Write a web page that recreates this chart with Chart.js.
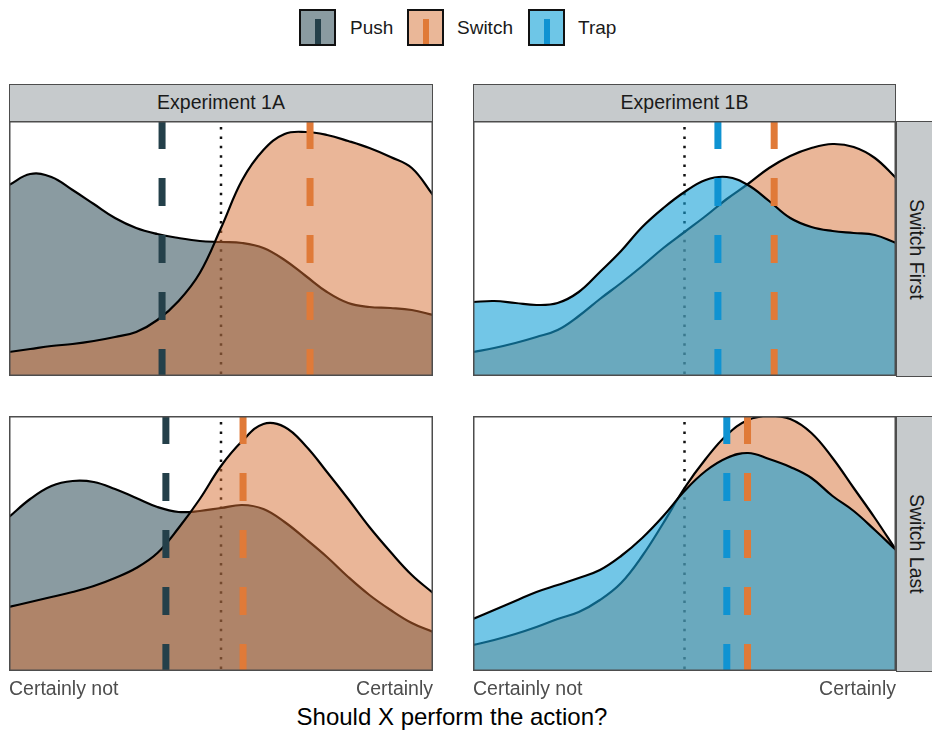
<!DOCTYPE html>
<html>
<head>
<meta charset="utf-8">
<script src="https://cdn.jsdelivr.net/npm/chart.js@4.4.1/dist/chart.umd.min.js"></script>
<style>
    body {
        margin: 0;
        width: 932px;
        height: 731px;
        position: relative;
        overflow: hidden;
        background: #fff;
        font-family: "Liberation Sans", Arial, sans-serif;
    }
    canvas { position: absolute; }
    .strip {
        position: absolute;
        box-sizing: border-box;
        background: #c6cacc;
        border: 1.5px solid #4d4d4d;
        color: #1a1a1a;
        font-size: 19.5px;
        line-height: 1;
        display: flex;
        align-items: center;
        justify-content: center;
    }
    .strip.side { writing-mode: vertical-rl; }
    .key {
        position: absolute;
        top: 9px;
        width: 37px;
        height: 37px;
        box-sizing: border-box;
        border: 2px solid #111;
    }
    .key span {
        position: absolute;
        left: 13.5px;
        top: 8px;
        width: 6px;
        bottom: 0;
    }
    .keyLabel {
        position: absolute;
        top: 17px;
        font-size: 19px;
        line-height: 22px;
        color: #1a1a1a;
    }
    #title {
        position: absolute;
        left: 0;
        width: 904px;
        top: 705px;
        text-align: center;
        font-size: 24px;
        line-height: 24px;
        color: #000;
    }
</style>
</head>
<body>

<div class="key" style="left:299px;background:#8a9ba1"><span style="background:#24404a"></span></div>
<div class="keyLabel" style="left:350px">Push</div>
<div class="key" style="left:407px;background:#eab798"><span style="background:#e07a38"></span></div>
<div class="keyLabel" style="left:457px">Switch</div>
<div class="key" style="left:528px;background:#6ec6e7"><span style="background:#0f93d2"></span></div>
<div class="keyLabel" style="left:578px">Trap</div>

<div class="strip" style="left:9px;top:84px;width:424px;height:38px">Experiment 1A</div>
<div class="strip" style="left:473px;top:84px;width:423px;height:38px">Experiment 1B</div>
<div class="strip side" style="left:896px;top:121px;width:40px;height:256px">Switch First</div>
<div class="strip side" style="left:896px;top:416px;width:40px;height:256px">Switch Last</div>

<canvas id="c1A_first" width="424" height="255" style="left:9px;top:121px"></canvas>
<canvas id="c1B_first" width="423" height="255" style="left:473px;top:121px"></canvas>
<canvas id="c1A_last" width="424" height="285" style="left:9px;top:416px"></canvas>
<canvas id="c1B_last" width="423" height="285" style="left:473px;top:416px"></canvas>

<div id="title">Should X perform the action?</div>

<script>
// response scale, 0 = certainly not, 100 = certainly
const xGrid = [0, 5, 10, 15, 20, 25, 30, 35, 40, 45, 50, 55, 60, 65, 70, 75, 80, 85, 90, 95, 100];
const tickValues = [0, 100];
const tickLabels = ['Certainly not', 'Certainly'];
const midpoint = 50;
const yMax = 25.5;

// density estimates (arbitrary units) read at xGrid
const push1A_first   = [19.1, 20.2, 19.9, 18.6, 17.2, 15.8, 14.8, 14.2, 13.8, 13.5, 13.4, 13.3, 12.8, 11.6, 10.0, 8.4, 7.3, 6.9, 6.8, 6.6, 6.1];
const switch1A_first = [2.4, 2.7, 3.0, 3.2, 3.5, 3.9, 4.4, 5.6, 7.5, 10.3, 14.8, 19.6, 22.6, 24.2, 24.4, 24.1, 23.5, 22.8, 21.9, 20.8, 18.1];
const switch1B_first = [2.4, 2.8, 3.3, 3.9, 4.6, 6.0, 7.7, 9.3, 11.0, 12.8, 14.4, 16.0, 17.7, 19.2, 20.8, 22.0, 22.8, 23.2, 22.9, 21.8, 19.8];
const trap1B_first   = [7.4, 7.5, 7.3, 7.1, 7.3, 8.4, 10.4, 12.5, 14.9, 16.8, 18.4, 19.6, 19.9, 19.1, 17.5, 15.8, 14.9, 14.5, 14.3, 14.1, 13.3];
const push1A_last    = [15.4, 17.2, 18.5, 19.0, 18.9, 18.2, 17.3, 16.4, 15.9, 16.0, 16.3, 16.6, 16.2, 14.9, 13.2, 11.4, 9.4, 7.6, 6.1, 4.8, 3.9];
const switch1A_last  = [6.4, 6.9, 7.4, 7.9, 8.5, 9.3, 10.3, 11.8, 14.3, 17.2, 20.5, 23.0, 24.7, 24.4, 22.5, 19.9, 17.2, 14.4, 11.9, 9.6, 7.8];
const switch1B_last  = [2.6, 3.1, 3.7, 4.4, 5.2, 5.9, 7.1, 8.8, 11.5, 14.8, 18.3, 21.2, 23.6, 25.1, 25.5, 25.2, 23.8, 21.3, 18.3, 15.3, 12.1];
const trap1B_last    = [5.2, 6.1, 7.0, 7.9, 8.6, 9.3, 10.1, 11.5, 13.3, 15.5, 18.0, 20.0, 21.3, 21.8, 21.2, 20.4, 19.3, 17.5, 16.0, 14.1, 12.1];

// mean ratings per condition
const pushMeans   = { '1A_first': 36.1, '1A_last': 37.0 };
const switchMeans = { '1A_first': 71.0, '1A_last': 55.2, '1B_first': 71.2, '1B_last': 64.9 };
const trapMeans   = { '1B_first': 57.9, '1B_last': 60.0 };

const groups = {
    Push:   { fill: 'rgba(22, 55, 67, 0.5)',   line: '#24404a' },
    Switch: { fill: 'rgba(213, 110, 50, 0.5)', line: '#e07a38' },
    Trap:   { fill: 'rgba(20, 160, 215, 0.6)', line: '#0f93d2' }
};

const panelFrame = {
    id: 'panelFrame',
    afterDraw(chart) {
        const { ctx, chartArea: a } = chart;
        ctx.save();
        ctx.strokeStyle = '#4d4d4d';
        ctx.lineWidth = 1.5;
        ctx.strokeRect(a.left + 0.75, a.top + 0.75, a.right - a.left - 1.5, a.bottom - a.top - 1.5);
        ctx.restore();
    }
};

function makePanel(canvasId, series, showTicks) {
    const datasets = [];

    // dotted midpoint, drawn underneath everything
    datasets.push({
        data: [{ x: midpoint, y: yMax }, { x: midpoint, y: 0 }],
        borderColor: '#111',
        borderWidth: 2.5,
        borderDash: [2.5, 6.9],
        borderDashOffset: -6,
        fill: false,
        order: 20
    });

    series.forEach((s, i) => {
        datasets.push({
            label: s.name,
            data: xGrid.map((x, j) => ({ x, y: s.values[j] })),
            borderColor: '#000',
            borderWidth: 2.2,
            backgroundColor: groups[s.name].fill,
            fill: 'origin',
            tension: 0.4,
            order: 10 - i
        });
    });

    // mean lines on top
    series.forEach(s => {
        datasets.push({
            data: [{ x: s.mean, y: yMax }, { x: s.mean, y: 0 }],
            borderColor: groups[s.name].line,
            borderWidth: 7,
            borderDash: [28, 29],
            borderCapStyle: 'butt',
            fill: false,
            order: 1
        });
    });

    const xScale = {
        type: 'linear',
        min: 0,
        max: 100,
        display: showTicks,
        grid: { display: false, drawTicks: false },
        border: { display: false },
        afterBuildTicks: scale => {
            scale.ticks = tickValues.map(v => ({ value: v }));
        },
        ticks: {
            align: 'inner',
            maxRotation: 0,
            padding: 7,
            color: '#4d4d4d',
            font: { family: 'Liberation Sans', size: 19.5 },
            callback: (value, i) => tickLabels[i]
        }
    };
    if (showTicks) {
        xScale.afterFit = scale => {
            scale.height = 30;
            scale.paddingLeft = 0;
            scale.paddingRight = 0;
        };
    }

    new Chart(document.getElementById(canvasId), {
        type: 'line',
        data: { datasets },
        options: {
            responsive: false,
            devicePixelRatio: 1,
            animation: false,
            events: [],
            layout: { padding: 0 },
            elements: { point: { radius: 0 } },
            plugins: {
                legend: { display: false },
                tooltip: { enabled: false }
            },
            scales: {
                x: xScale,
                y: {
                    min: 0,
                    max: yMax,
                    display: false
                }
            }
        },
        plugins: [panelFrame]
    });
}

makePanel('c1A_first', [
    { name: 'Push', values: push1A_first, mean: pushMeans['1A_first'] },
    { name: 'Switch', values: switch1A_first, mean: switchMeans['1A_first'] }
], false);

makePanel('c1B_first', [
    { name: 'Switch', values: switch1B_first, mean: switchMeans['1B_first'] },
    { name: 'Trap', values: trap1B_first, mean: trapMeans['1B_first'] }
], false);

makePanel('c1A_last', [
    { name: 'Push', values: push1A_last, mean: pushMeans['1A_last'] },
    { name: 'Switch', values: switch1A_last, mean: switchMeans['1A_last'] }
], true);

makePanel('c1B_last', [
    { name: 'Switch', values: switch1B_last, mean: switchMeans['1B_last'] },
    { name: 'Trap', values: trap1B_last, mean: trapMeans['1B_last'] }
], true);
</script>
</body>
</html>
